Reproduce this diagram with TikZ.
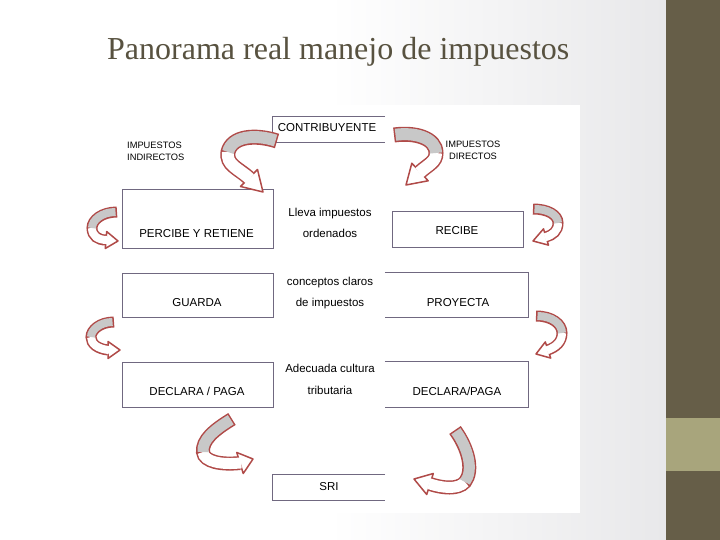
\documentclass[tikz,border=0pt]{standalone}
\usepackage{fontspec}
\setmainfont{Liberation Serif}
\newfontfamily\arialf{Liberation Sans}
\usetikzlibrary{calc}
\definecolor{ribred}{RGB}{176,74,72}
\definecolor{ribgray}{RGB}{200,200,200}
\definecolor{boxcol}{RGB}{112,104,128}
\definecolor{titlecol}{RGB}{88,82,64}
\definecolor{barcol}{RGB}{102,94,72}
\definecolor{bandcol}{RGB}{168,165,124}
\definecolor{bgright}{RGB}{232,232,234}
\tikzset{
  boxst/.style={draw=boxcol, line width=1pt, inner sep=0pt, rectangle},
  openbox/.style={inner sep=0pt, rectangle},
  boxline/.style={draw=boxcol, line width=1pt},
  lbl/.style={font=\arialf\fontsize{11.5}{13}\selectfont, inner sep=0pt, anchor=base},
  small/.style={font=\arialf\fontsize{9.3}{11}\selectfont, inner sep=0pt, anchor=base},
  rbout/.style={draw=ribred, line cap=butt},
  rbhead/.style={draw=ribred, fill=white, line width=1.5pt, line join=round},
  rbin/.style={draw=white, shorten >=-1.2pt},
  rbgray/.style={draw=ribgray, shorten <=1.5pt},
}
\def\bandw{12pt}\def\bando{15pt}\def\headw{12pt}
\newcommand\ribbon[8]{%
  \draw[rbout, line width=\bando] #1 .. controls #2 and #3 .. #4 .. controls #5 and #6 .. #7;
  \filldraw[rbhead] ($#7!\headw!90:#8$) -- #8 -- ($#7!\headw!-90:#8$) -- cycle;
  \draw[rbin, line width=\bandw] #4 .. controls #5 and #6 .. #7;
  \draw[rbgray, line width=\bandw] #1 .. controls #2 and #3 .. #4;
}
\begin{document}
\begin{tikzpicture}[x=1pt,y=-1pt]
\useasboundingbox (0,0) rectangle (720,540);
% background
\fill[white] (0,0) rectangle (330,540);
\shade[left color=white, right color=bgright] (329,0) rectangle (666,540);
\fill[barcol] (666,0) rectangle (720,540);
\fill[bandcol] (666,418) rectangle (720,471);
\fill[white] (105,105) rectangle (580,513);
% title
\node[anchor=base west, inner sep=0pt, font=\fontsize{32}{38}\selectfont, text=titlecol] (title) at (107,60) {Panorama real manejo de impuestos};
% boxes
\node[openbox, minimum width=112pt, minimum height=25pt] (contrib) at (329,129.5) {};
\draw[boxline] (contrib.north east) -- (contrib.north west) -- (contrib.south west) -- (contrib.south east);
\node[boxst, minimum width=151pt, minimum height=58pt] (percibe) at (197.5,219) {};
\node[boxst, minimum width=131pt, minimum height=35pt] (recibe) at (457.5,229.5) {};
\node[boxst, minimum width=151pt, minimum height=44pt] (guarda) at (197.5,295) {};
\node[openbox, minimum width=143pt, minimum height=44pt] (proyecta) at (456.5,295) {};
\draw[boxline] (proyecta.north west) -- (proyecta.north east) -- (proyecta.south east) -- (proyecta.south west);
\node[boxst, minimum width=151pt, minimum height=45pt] (declL) at (197.5,384.5) {};
\node[openbox, minimum width=143pt, minimum height=45pt] (declR) at (456.5,384.5) {};
\draw[boxline] (declR.north west) -- (declR.north east) -- (declR.south east) -- (declR.south west);
\node[openbox, minimum width=112pt, minimum height=25pt] (sri) at (329,487.5) {};
\draw[boxline] (sri.north east) -- (sri.north west) -- (sri.south west) -- (sri.south east);
% texts
\node[lbl] (tcontrib) at (327,132) {CONTRIBUYENTE};
\node[small, anchor=base west] (tind1) at (127,148.5) {IMPUESTOS};
\node[small, anchor=base west] (tind2) at (127,160.5) {INDIRECTOS};
\node[small] (tdir1) at (473,147.5) {IMPUESTOS};
\node[small] (tdir2) at (473,159.5) {DIRECTOS};
\node[lbl] (tpercibe) at (196.5,237) {PERCIBE Y RETIENE};
\node[lbl] (tlleva) at (330,217) {Lleva impuestos};
\node[lbl] (torden) at (330,237) {ordenados};
\node[lbl] (trecibe) at (457,235) {RECIBE};
\node[lbl] (tguarda) at (197,306) {GUARDA};
\node[lbl] (tconc) at (330,285) {conceptos claros};
\node[lbl] (tdeimp) at (330,306) {de impuestos};
\node[lbl] (tproy) at (458,306) {PROYECTA};
\node[lbl] (tadec) at (330,372.5) {Adecuada cultura};
\node[lbl] (ttrib) at (330,394.5) {tributaria};
\node[lbl] (tdeclL) at (197,395) {DECLARA / PAGA};
\node[lbl] (tdeclR) at (457,395) {DECLARA/PAGA};
\node[lbl] (tsri) at (329,490) {SRI};
% curved arrows
\def\bandw{12pt}\def\bando{15pt}\def\headw{12pt}
\ribbon{(277,141)}{(255,134)}{(232,136)}{(228,152)}{(226,165)}{(238,168)}{(249,178)}{(263,192)}
\ribbon{(394,135)}{(415,132)}{(436,138)}{(436,153)}{(436,162)}{(429,164)}{(420,172)}{(406,185)}
\def\bandw{8pt}\def\bando{11pt}\def\headw{8.5pt}
\ribbon{(117,212)}{(102,212)}{(92,220)}{(92,228)}{(92,236)}{(98,240)}{(106,240)}{(118,241)}
\ribbon{(533,209)}{(548,209)}{(558,215)}{(558,223)}{(558,231)}{(553,235)}{(546,237)}{(533,241)}
\ribbon{(114,322)}{(100,322)}{(91,330)}{(91,337)}{(91,344)}{(98,349)}{(108,350)}{(120,350)}
\ribbon{(536,316)}{(552,316)}{(562,324)}{(562,333)}{(562,342)}{(556,347)}{(548,350)}{(536,354)}
\def\bandw{11pt}\def\bando{14pt}\def\headw{11pt}
\ribbon{(232,419)}{(214,430)}{(202,440)}{(203,452)}{(204,462)}{(222,465)}{(240,463)}{(253,459)}
\ribbon{(455,430)}{(468,448)}{(474,470)}{(465,482)}{(458,490)}{(442,488)}{(430,484)}{(414,479)}
\end{tikzpicture}
\end{document}
